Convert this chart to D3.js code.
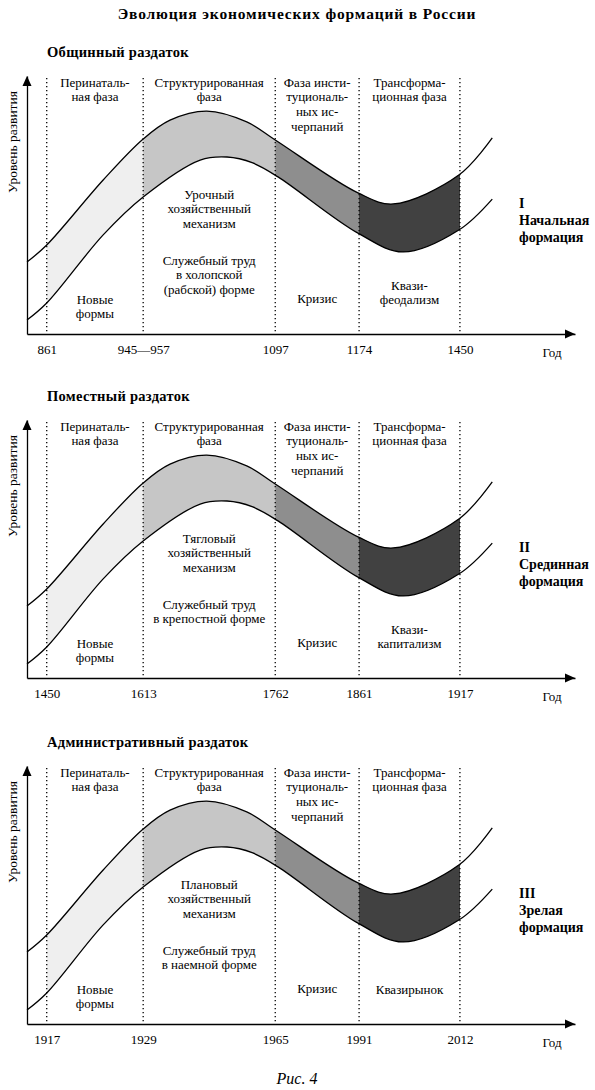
<!DOCTYPE html>
<html>
<head>
<meta charset="utf-8">
<script src="https://cdn.jsdelivr.net/npm/d3@7"></script>
<style>
  html, body { margin: 0; padding: 0; background: #fff; }
  svg { display: block; }
  svg text { font-family: "Liberation Serif", "Times New Roman", serif; }
</style>
</head>
<body>
<div id="chart"></div>
<script>
// phase boundaries along the (schematic) time axis, 0..100
const boundaryPos = [3.6, 21.2, 45.3, 60.6, 79.0];

// development level curves, 0..100 (same schematic wave for each formation)
const upperPos = [0, 3.6, 13.9, 21.2, 26.1, 32.8, 40.1, 45.3, 60.4, 66.8, 78.8, 84.9];
const upperLvl = [27.9, 34.5, 59.7, 75.6, 82.9, 86.4, 82.2, 75.2, 54.7, 50.4, 61.6, 76.0];
const lowerPos = [0, 3.6, 13.9, 21.2, 31.6, 36.5, 41.2, 45.8, 60.4, 68.6, 78.8, 84.9];
const lowerLvl = [5.4, 12.0, 38.4, 53.1, 67.4, 68.6, 66.3, 60.9, 39.1, 31.8, 40.3, 52.3];

const phaseHeaders = [
  ['Перинаталь-', 'ная фаза'],
  ['Структурированная', 'фаза'],
  ['Фаза инсти-', 'туциональ-', 'ных ис-', 'черпаний'],
  ['Трансформа-', 'ционная фаза']
];

const panelTitles = ['Общинный раздаток', 'Поместный раздаток', 'Административный раздаток'];
const panelYears = [
  ['861', '945—957', '1097', '1174', '1450'],
  ['1450', '1613', '1762', '1861', '1917'],
  ['1917', '1929', '1965', '1991', '2012']
];
const formationNames = [
  ['I', 'Начальная', 'формация'],
  ['II', 'Срединная', 'формация'],
  ['III', 'Зрелая', 'формация']
];
const mechanismText = [
  ['Урочный', 'хозяйственный', 'механизм'],
  ['Тягловый', 'хозяйственный', 'механизм'],
  ['Плановый', 'хозяйственный', 'механизм']
];
const laborText = [
  ['Служебный труд', 'в холопской', '(рабской) форме'],
  ['Служебный труд', 'в крепостной форме'],
  ['Служебный труд', 'в наемной форме']
];
const newFormsText = ['Новые', 'формы'];
const crisisText = ['Кризис'];
const transformText = [['Квази-', 'феодализм'], ['Квази-', 'капитализм'], ['Квазирынок']];

const phaseFill = ['#efefef', '#c6c6c6', '#8e8e8e', '#414141'];
const axisY = [334, 678, 1024];
const PH = 258;
const FONT = '"Liberation Serif", "Times New Roman", serif';

const svg = d3.select('#chart').append('svg').attr('width', 595).attr('height', 1090)
  .attr('font-family', FONT);

svg.append('text').attr('x', 297).attr('y', 14).attr('dy', '0.35em')
  .attr('text-anchor', 'middle').attr('font-weight', 'bold').attr('font-size', 15.5)
  .attr('letter-spacing', 0.85)
  .text('Эволюция экономических формаций в России');

svg.append('text').attr('x', 297).attr('y', 1078).attr('dy', '0.35em')
  .attr('text-anchor', 'middle').attr('font-style', 'italic').attr('font-size', 16)
  .text('Рис. 4');

const x = d3.scaleLinear().domain([0, 100]).range([27, 575]);
const y = d3.scaleLinear().domain([0, 100]).range([PH, 0]);

const line = d3.line().x(d => x(d[0])).y(d => y(d[1])).curve(d3.curveCatmullRom.alpha(0.5));
const upperPts = upperPos.map((p, i) => [p, upperLvl[i]]);
const lowerPts = lowerPos.map((p, i) => [p, lowerLvl[i]]);
const bandPath = line(upperPts) + 'L' + line(lowerPts.slice().reverse()).slice(1) + 'Z';

const defs = svg.append('defs');

function lines(g, arr, cx, cy, lh, fs) {
  const t = g.append('text').attr('text-anchor', 'middle').attr('font-size', fs || 13);
  arr.forEach((s, i) => {
    t.append('tspan').attr('x', cx).attr('y', cy + i * lh).attr('dy', '0.35em').text(s);
  });
  return t;
}

panelTitles.forEach((title, k) => {
  const A = axisY[k];
  const g = svg.append('g').attr('transform', `translate(0,${A - PH})`);

  // phase fills, clipped out of the whole band
  for (let i = 0; i < 4; i++) {
    const id = `clip-${k}-${i}`;
    defs.append('clipPath').attr('id', id).append('rect')
      .attr('x', x(boundaryPos[i])).attr('y', 0)
      .attr('width', x(boundaryPos[i + 1]) - x(boundaryPos[i])).attr('height', PH);
    g.append('path').attr('d', bandPath).attr('fill', phaseFill[i])
      .attr('clip-path', `url(#${id})`);
  }

  // curves
  [upperPts, lowerPts].forEach(pts => {
    g.append('path').attr('d', line(pts)).attr('fill', 'none')
      .attr('stroke', '#000').attr('stroke-width', 1.3);
  });

  // dotted phase boundaries
  g.selectAll('line.div').data(boundaryPos).join('line').attr('class', 'div')
    .attr('x1', d => x(d)).attr('x2', d => x(d))
    .attr('y1', 2).attr('y2', y(0))
    .attr('stroke', '#000').attr('stroke-width', 1.3)
    .attr('stroke-dasharray', '1.3,2.7');

  // axes
  const xAxis = d3.axisBottom(x).tickValues(boundaryPos)
    .tickFormat((d, i) => panelYears[k][i]).tickSize(0).tickPadding(11);
  const xa = g.append('g').attr('transform', `translate(0,${y(0)})`).call(xAxis)
    .attr('font-family', FONT).attr('font-size', 13);
  xa.select('.domain').attr('stroke-width', 1.3);
  xa.selectAll('text').attr('fill', '#000');

  const yAxis = d3.axisLeft(y).ticks(0).tickSize(0);
  const ya = g.append('g').attr('transform', `translate(${x(0)},0)`).call(yAxis);
  ya.select('.domain').attr('stroke-width', 1.3);

  g.append('path').attr('d', `M${x(100)},${y(0)}l-10,-4.5v9z`).attr('fill', '#000');
  g.append('path').attr('d', `M${x(0)},${y(100)}l-4.5,10h9z`).attr('fill', '#000');

  g.append('text').attr('x', 552).attr('y', PH + 18).attr('dy', '0.35em')
    .attr('text-anchor', 'middle').attr('font-size', 13).text('Год');

  g.append('text').attr('transform', `translate(12,${PH - 192}) rotate(-90)`)
    .attr('dy', '0.35em').attr('text-anchor', 'middle').attr('font-size', 13.5)
    .text('Уровень развития');

  // panel title
  svg.append('text').attr('x', 47).attr('y', A - 282).attr('dy', '0.35em')
    .attr('font-weight', 'bold').attr('font-size', 14.5).attr('letter-spacing', 0.3)
    .text(title);

  // phase headers
  const mids = d3.range(4).map(i => (x(boundaryPos[i]) + x(boundaryPos[i + 1])) / 2);
  phaseHeaders.forEach((h, i) => lines(g, h, mids[i], 6, 14.7));

  // inner texts
  lines(g, mechanismText[k], mids[1], PH - 140, 14.6);
  lines(g, laborText[k], mids[1], PH - 74, 14.6);
  lines(g, newFormsText, mids[0], PH - 35, 14.3);
  lines(g, crisisText, mids[2], PH - 36, 14.3);
  const tt = transformText[k];
  lines(g, tt, mids[3], PH - 35 - (tt.length - 1) * 13.5, 13.5);

  // formation names
  const f = g.append('text').attr('font-weight', 'bold').attr('font-size', 14);
  formationNames[k].forEach((s, i) => {
    f.append('tspan').attr('x', 519).attr('y', PH - 131 + i * 17).attr('dy', '0.35em').text(s);
  });
});
</script>
</body>
</html>
